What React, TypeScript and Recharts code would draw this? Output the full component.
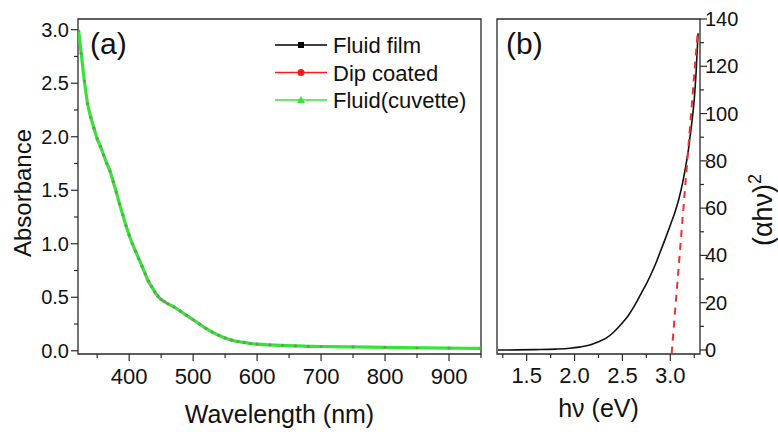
import React from 'react';
import { LineChart, Line, XAxis, YAxis, ReferenceArea, Legend } from 'recharts';

// ---------- Panel (a): absorbance spectra ----------
const wavelength = [321, 325, 330, 335, 340, 345, 350, 355, 360, 365, 370, 375, 380, 385, 390, 395, 400, 405, 410, 415, 420, 425, 430, 435, 440, 445, 450, 455, 460, 470, 480, 490, 500, 510, 520, 530, 540, 550, 560, 570, 580, 590, 600, 620, 640, 660, 680, 700, 750, 800, 850, 900, 950];
const absFluidFilm = [2.99, 2.78, 2.52, 2.31, 2.18, 2.08, 1.98, 1.91, 1.83, 1.75, 1.68, 1.58, 1.48, 1.37, 1.27, 1.17, 1.08, 1.0, 0.93, 0.86, 0.79, 0.72, 0.65, 0.6, 0.55, 0.51, 0.48, 0.46, 0.44, 0.41, 0.37, 0.33, 0.29, 0.25, 0.21, 0.175, 0.145, 0.12, 0.1, 0.087, 0.078, 0.068, 0.062, 0.055, 0.05, 0.045, 0.042, 0.04, 0.036, 0.032, 0.028, 0.025, 0.022];
const absDipCoated = [2.99, 2.78, 2.52, 2.31, 2.18, 2.08, 1.98, 1.91, 1.83, 1.75, 1.68, 1.58, 1.48, 1.37, 1.27, 1.17, 1.08, 1.0, 0.93, 0.86, 0.79, 0.72, 0.65, 0.6, 0.55, 0.51, 0.48, 0.46, 0.44, 0.41, 0.37, 0.33, 0.29, 0.25, 0.21, 0.175, 0.145, 0.12, 0.1, 0.086, 0.077, 0.067, 0.061, 0.054, 0.049, 0.044, 0.041, 0.038, 0.034, 0.03, 0.026, 0.023, 0.02];
const absCuvette = [2.99, 2.78, 2.52, 2.31, 2.18, 2.08, 1.98, 1.91, 1.83, 1.75, 1.68, 1.58, 1.48, 1.37, 1.27, 1.17, 1.08, 1.0, 0.93, 0.86, 0.79, 0.72, 0.65, 0.6, 0.55, 0.51, 0.48, 0.46, 0.44, 0.41, 0.37, 0.33, 0.29, 0.25, 0.21, 0.175, 0.145, 0.12, 0.1, 0.087, 0.078, 0.068, 0.062, 0.055, 0.05, 0.045, 0.042, 0.04, 0.036, 0.032, 0.028, 0.025, 0.022];

const wlMajorTicks = [400, 500, 600, 700, 800, 900];
const wlMinorTicks = [350, 450, 550, 650, 750, 850, 950];
const absMajorTicks = [0, 0.5, 1.0, 1.5, 2.0, 2.5, 3.0];
const absMinorTicks = [0.25, 0.75, 1.25, 1.75, 2.25, 2.75];

const seriesNames = ['Fluid film', 'Dip coated', 'Fluid(cuvette)'];
const seriesColors = ['#000000', '#ff1a1a', '#33e633'];

// ---------- Panel (b): Tauc plot ----------
const photonEnergy = [1.2, 1.4, 1.6, 1.8, 1.95, 2.05, 2.15, 2.25, 2.33, 2.41, 2.5, 2.56, 2.62, 2.66, 2.7, 2.75, 2.79, 2.85, 2.89, 2.95, 3.0, 3.05, 3.09, 3.13, 3.16, 3.19, 3.21, 3.23, 3.25, 3.27, 3.29];
const taucValue = [0.0, 0.05, 0.15, 0.35, 0.7, 1.2, 2.0, 3.5, 5.0, 7.6, 11.5, 14.5, 18.3, 21.2, 24.3, 28.0, 31.3, 36.8, 41.0, 47.3, 52.8, 58.5, 64.0, 71.0, 77.5, 85.0, 91.5, 98.0, 106.0, 118.0, 134.0];
const fitEnergy = [3.014, 3.286];
const fitValue = [-1.5, 134.5];

const evMajorTicks = [1.5, 2.0, 2.5, 3.0];
const evMinorTicks = [1.25, 1.75, 2.25, 2.75, 3.25];
const taucMajorTicks = [0, 20, 40, 60, 80, 100, 120, 140];
const taucMinorTicks = [10, 30, 50, 70, 90, 110, 130];

// ---------- tables built from the arrays ----------
const dataA = wavelength.map((w, i) => ({
  w,
  film: absFluidFilm[i],
  dip: absDipCoated[i],
  cuv: absCuvette[i],
}));
const dataB = photonEnergy.map((e, i) => ({ e, v: taucValue[i] }));
const dataFit = fitEnergy.map((e, i) => ({ e, v: fitValue[i] }));

const FONT = '"Liberation Sans", Arial, sans-serif';
const AXIS = '#2a2a2a';
const TEXT = '#111';

const isIn = (arr: number[], v: number) => arr.some((a) => Math.abs(a - v) < 1e-9);

const makeBottomTick = (major: number[], fmt: (v: number) => string, dyText: number, fs: number) =>
  (props: any) => {
    const { x, y, payload } = props;
    const v = payload.value;
    const m = isIn(major, v);
    return (
      <g>
        <line x1={x} x2={x} y1={y} y2={y + (m ? 7 : 4)} stroke={AXIS} strokeWidth={1.2} />
        {m && (
          <text x={x} y={y + dyText} textAnchor="middle" fontSize={fs} fontFamily={FONT} fill={TEXT}>
            {fmt(v)}
          </text>
        )}
      </g>
    );
  };

const makeLeftTick = (major: number[], fmt: (v: number) => string) => (props: any) => {
  const { x, y, payload } = props;
  const v = payload.value;
  const m = isIn(major, v);
  return (
    <g>
      <line x1={x} x2={x - (m ? 7 : 4)} y1={y} y2={y} stroke={AXIS} strokeWidth={1.2} />
      {m && (
        <text x={x - 9} y={y + 7} textAnchor="end" fontSize={20} fontFamily={FONT} fill={TEXT}>
          {fmt(v)}
        </text>
      )}
    </g>
  );
};

const makeRightTick = (major: number[], fmt: (v: number) => string) => (props: any) => {
  const { x, y, payload } = props;
  const v = payload.value;
  const m = isIn(major, v);
  return (
    <g>
      <line x1={x} x2={x + (m ? 7 : 4)} y1={y} y2={y} stroke={AXIS} strokeWidth={1.2} />
      {m && (
        <text x={x + 5} y={y + 7} textAnchor="start" fontSize={20} fontFamily={FONT} fill={TEXT}>
          {fmt(v)}
        </text>
      )}
    </g>
  );
};

const GreenDot = (props: any) => {
  const { cx, cy, index } = props;
  if (cx == null || cy == null) return <g key={index} />;
  return <circle key={index} cx={cx} cy={cy} r={1.6} fill="#6a9a5c" />;
};

const LegendBox = () => (
  <svg width={230} height={90} style={{ display: 'block', overflow: 'visible' }}>
    {seriesNames.map((name, i) => {
      const cy = 15 + i * 27.5;
      const c = seriesColors[i];
      return (
        <g key={name}>
          <line x1={5} x2={57} y1={cy} y2={cy} stroke={c} strokeWidth={1.6} />
          {i === 0 && <rect x={28} y={cy - 3} width={6} height={6} fill={c} />}
          {i === 1 && <circle cx={31} cy={cy} r={3.5} fill={c} />}
          {i === 2 && <polygon points={`${31},${cy - 4} ${35},${cy + 3} ${27},${cy + 3}`} fill={c} />}
          <text x={63} y={cy + 8} fontSize={22} fontFamily={FONT} fill={TEXT}>
            {name}
          </text>
        </g>
      );
    })}
  </svg>
);

export default function App() {
  return (
    <div style={{ position: 'absolute', left: 0, top: 0, width: 778, height: 434, background: '#fff' }}>
      {/* Panel (a) */}
      <div style={{ position: 'absolute', left: 0, top: 0 }}>
        <LineChart width={490} height={434} data={dataA} margin={{ top: 19, right: 9, bottom: 20, left: 0 }}>
          <XAxis
            dataKey="w"
            type="number"
            domain={[320, 950]}
            allowDataOverflow
            ticks={[...wlMajorTicks, ...wlMinorTicks].sort((a, b) => a - b)}
            interval={0}
            tickSize={0}
            tickMargin={0}
            axisLine={false}
            tickLine={false}
            height={60}
            tick={makeBottomTick(wlMajorTicks, (v) => String(v), 30, 22)}
            label={{
              content: (p: any) => {
                const vb = p.viewBox;
                return (
                  <text x={vb.x + vb.width / 2} y={vb.y + 69} textAnchor="middle" fontSize={25} fontFamily={FONT} fill={TEXT}>
                    Wavelength (nm)
                  </text>
                );
              },
            }}
          />
          <YAxis
            type="number"
            domain={[-0.03, 3.1]}
            allowDataOverflow
            ticks={[...absMajorTicks, ...absMinorTicks].sort((a, b) => a - b)}
            interval={0}
            tickSize={0}
            tickMargin={0}
            axisLine={false}
            tickLine={false}
            width={78}
            tick={makeLeftTick(absMajorTicks, (v) => v.toFixed(1))}
            label={{
              content: () => (
                <text transform="translate(31, 193) rotate(-90)" textAnchor="middle" fontSize={24} fontFamily={FONT} fill={TEXT}>
                  Absorbance
                </text>
              ),
            }}
          />
          <Line type="monotone" dataKey="film" name={seriesNames[0]} stroke={seriesColors[0]} strokeWidth={1.5} dot={false} isAnimationActive={false} />
          <Line type="monotone" dataKey="dip" name={seriesNames[1]} stroke={seriesColors[1]} strokeWidth={1.5} dot={false} isAnimationActive={false} />
          <Line type="monotone" dataKey="cuv" name={seriesNames[2]} stroke={seriesColors[2]} strokeWidth={3.2} dot={GreenDot} isAnimationActive={false} />
          <ReferenceArea x1={320} x2={950} y1={-0.03} y2={3.1} fill="none" stroke={AXIS} strokeWidth={1.3} ifOverflow="visible" />
          <Legend
            layout="horizontal"
            verticalAlign="middle"
            align="center"
            content={() => <LegendBox />}
            wrapperStyle={{ position: 'absolute', left: 270, top: 30, width: 230, height: 90 }}
          />
          <text x={90} y={54} fontSize={30} fontFamily={FONT} fill={TEXT}>(a)</text>
        </LineChart>
      </div>

      {/* Panel (b) */}
      <div style={{ position: 'absolute', left: 490, top: 0 }}>
        <LineChart width={288} height={434} margin={{ top: 19, right: 0, bottom: 20, left: 7 }}>
          <XAxis
            dataKey="e"
            type="number"
            domain={[1.19, 3.31]}
            allowDataOverflow
            ticks={[...evMajorTicks, ...evMinorTicks].sort((a, b) => a - b)}
            interval={0}
            tickSize={0}
            tickMargin={0}
            axisLine={false}
            tickLine={false}
            height={60}
            tick={makeBottomTick(evMajorTicks, (v) => v.toFixed(1), 29, 22)}
            label={{
              content: (p: any) => {
                const vb = p.viewBox;
                return (
                  <text x={vb.x + vb.width / 2} y={vb.y + 63} textAnchor="middle" fontSize={25} fontFamily={FONT} fill={TEXT}>
                    hν (eV)
                  </text>
                );
              },
            }}
          />
          <YAxis
            orientation="right"
            type="number"
            domain={[-1.7, 140]}
            allowDataOverflow
            ticks={[...taucMajorTicks, ...taucMinorTicks].sort((a, b) => a - b)}
            interval={0}
            tickSize={0}
            tickMargin={0}
            axisLine={false}
            tickLine={false}
            width={78}
            tick={makeRightTick(taucMajorTicks, (v) => String(v))}
            label={{
              content: () => (
                <text transform="translate(282, 210) rotate(-90)" textAnchor="middle" fontSize={27} fontFamily={FONT} fill={TEXT}>
                  (αhν)<tspan dy={-11} fontSize={18}>2</tspan>
                </text>
              ),
            }}
          />
          <Line type="monotone" data={dataB} dataKey="v" stroke="#111" strokeWidth={1.6} dot={false} isAnimationActive={false} />
          <Line data={dataFit} dataKey="v" stroke="#f03030" strokeWidth={2} strokeDasharray="7 6" dot={false} isAnimationActive={false} />
          <ReferenceArea x1={1.19} x2={3.31} y1={-1.7} y2={140} fill="none" stroke={AXIS} strokeWidth={1.3} ifOverflow="visible" />
          <text x={16} y={54} fontSize={30} fontFamily={FONT} fill={TEXT}>(b)</text>
        </LineChart>
      </div>
    </div>
  );
}
